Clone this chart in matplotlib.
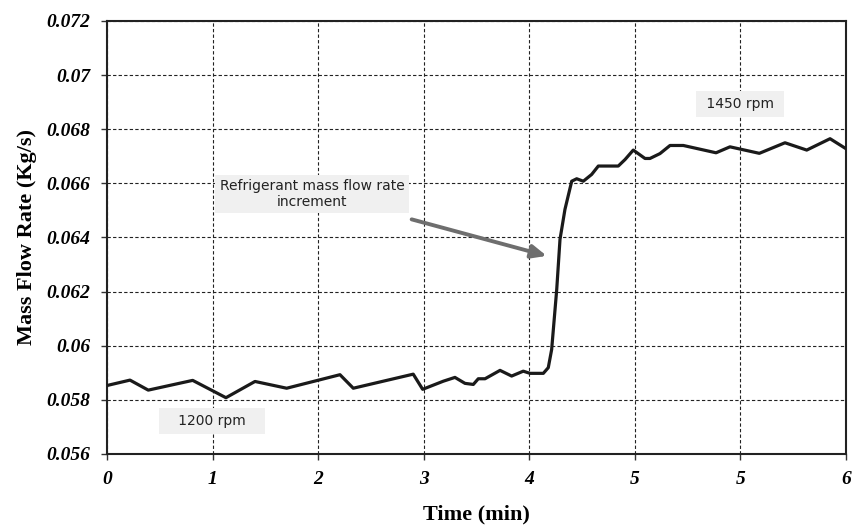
import matplotlib
matplotlib.use("Agg")
import matplotlib.pyplot as plt

# tick positions / labels (as shown on the reference axis)
x_tick_pos = [0, 1, 2, 3, 4, 5, 6, 7]
x_tick_labels = ["0", "1", "2", "3", "4", "5", "5", "6"]
y_ticks = [0.056, 0.058, 0.060, 0.062, 0.064, 0.066, 0.068, 0.070, 0.072]
y_tick_labels = ["0.056", "0.058", "0.06", "0.062", "0.064", "0.066", "0.068", "0.07", "0.072"]

# series (x in axis-tick units)
time = [0.000, 0.218, 0.391, 0.812, 1.127, 1.402, 1.702, 2.207, 2.333, 2.901,
        2.990, 3.186, 3.296, 3.391, 3.470, 3.517, 3.581, 3.723, 3.833, 3.943,
        4.007, 4.133, 4.180, 4.212, 4.260, 4.291, 4.338, 4.402, 4.449, 4.512,
        4.591, 4.654, 4.843, 4.907, 4.985, 5.096, 5.143, 5.238, 5.333, 5.459,
        5.769, 5.901, 6.179, 6.422, 6.628, 6.849, 7.000]
mass_flow = [0.05853, 0.05873, 0.05836, 0.05872, 0.05808, 0.05868, 0.05843, 0.05893, 0.05843, 0.05895,
             0.05839, 0.05869, 0.05883, 0.05861, 0.05857, 0.05878, 0.05878, 0.05909, 0.05888, 0.05906,
             0.05898, 0.05898, 0.05919, 0.05986, 0.06208, 0.06393, 0.06504, 0.06608, 0.06617, 0.06608,
             0.06633, 0.06664, 0.06664, 0.06688, 0.06723, 0.06692, 0.06692, 0.06710, 0.06740, 0.06740,
             0.06713, 0.06735, 0.06711, 0.06750, 0.06723, 0.06765, 0.06728]

fig = plt.figure(figsize=(8.53, 5.26), dpi=100)
ax = fig.add_axes([0.1254, 0.1369, 0.8664, 0.8232])

ax.plot(time, mass_flow, color="#1a1a1a", lw=2.3, solid_joinstyle="round", zorder=3)

ax.set_xlim(0, 7)
ax.set_ylim(0.056, 0.072)
ax.set_xticks(x_tick_pos)
ax.set_xticklabels(x_tick_labels)
ax.set_yticks(y_ticks)
ax.set_yticklabels(y_tick_labels)

for lab in ax.get_xticklabels() + ax.get_yticklabels():
    lab.set_fontfamily("Liberation Serif")
    lab.set_fontweight("bold")
    lab.set_fontstyle("italic")
    lab.set_fontsize(14)

ax.tick_params(axis="both", direction="out", length=4, width=1, color="#333333")
ax.tick_params(axis="x", pad=8)
ax.tick_params(axis="y", pad=8)

ax.grid(True, color="#222222", linestyle=(0, (3, 2)), linewidth=0.8)
ax.set_axisbelow(True)
for s in ax.spines.values():
    s.set_linewidth(1.5)
    s.set_color("#222222")

ax.set_xlabel("Time (min)", family="Liberation Serif", weight="bold", size=16, labelpad=12)
ax.set_ylabel("Mass Flow Rate (Kg/s)", family="Liberation Serif", weight="bold", size=16, labelpad=7)

boxprops = dict(boxstyle="square,pad=0.45", facecolor="#f0f0f0", edgecolor="none")
ax.text(0.995, 0.05722, "   1200 rpm   ", ha="center", va="center", family="DejaVu Sans",
        size=10, color="#222222", bbox=boxprops, zorder=4)
ax.text(5.996, 0.06893, " 1450 rpm ", ha="center", va="center", family="DejaVu Sans",
        size=10, color="#222222", bbox=boxprops, zorder=4)
ax.text(1.942, 0.06561, "Refrigerant mass flow rate\nincrement", ha="center", va="center",
        family="DejaVu Sans", size=10, color="#222222", linespacing=1.2,
        bbox=dict(boxstyle="square,pad=0.3", facecolor="#f0f0f0", edgecolor="none"), zorder=4)
ax.annotate("", xy=(4.165, 0.06332), xytext=(2.886, 0.06467),
            arrowprops=dict(arrowstyle="-|>,head_length=0.9,head_width=0.4",
                            color="#6e6e6e", lw=2.8, shrinkA=0, shrinkB=0), zorder=4)

fig.savefig("out.png", dpi=100)
